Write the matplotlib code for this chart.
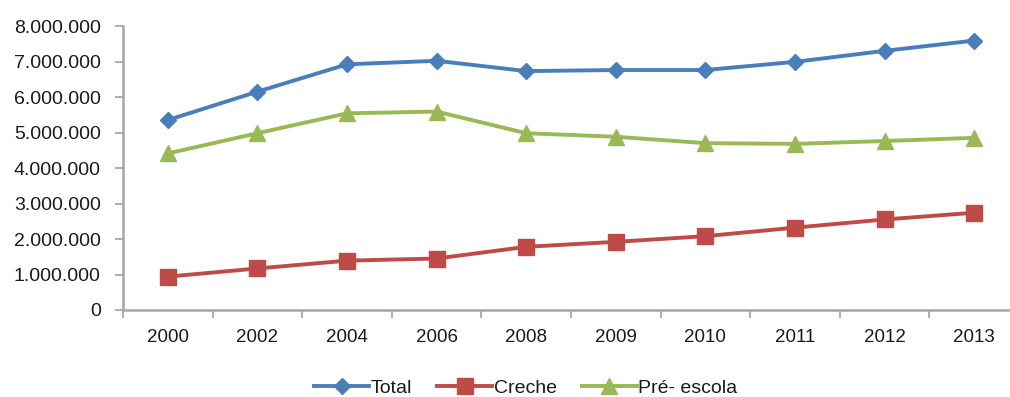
import matplotlib
matplotlib.use("Agg")
import matplotlib.pyplot as plt
from matplotlib.ticker import FuncFormatter, FixedLocator

years = ["2000", "2002", "2004", "2006", "2008", "2009", "2010", "2011", "2012", "2013"]
total = [5350000, 6150000, 6920000, 7020000, 6730000, 6760000, 6760000, 6990000, 7300000, 7590000]
creche = [940000, 1170000, 1390000, 1450000, 1780000, 1920000, 2080000, 2320000, 2550000, 2740000]
pre_escola = [4410000, 4980000, 5540000, 5590000, 4980000, 4880000, 4700000, 4680000, 4760000, 4850000]

plt.rcParams['font.family'] = ['Liberation Sans', 'DejaVu Sans']
txt = '#1a1a1a'
axc = '#a6a6a6'

fig = plt.figure(figsize=(10.10, 3.97), dpi=100)
ax = fig.add_axes([123/1010, 87/397, 896/1010, 284/397])

x = list(range(len(years)))
ax.plot(x, total, color='#4a7ebb', lw=2.8, marker='D', ms=8.5, mec='#4a7ebb', label='Total')
ax.plot(x, creche, color='#be4b48', lw=2.8, marker='s', ms=11.5, mec='#be4b48', label='Creche')
ax.plot(x, pre_escola, color='#98b954', lw=2.8, marker='^', ms=11.5, mec='#98b954', label='Pré- escola')

ax.set_xlim(-0.5, len(years) - 0.5)
ax.set_ylim(0, 8000000)
ax.yaxis.set_major_locator(FixedLocator([i * 1000000 for i in range(9)]))
ax.yaxis.set_major_formatter(FuncFormatter(lambda v, p: '0' if v == 0 else f"{int(v):,}".replace(',', '.')))

ax.xaxis.set_major_locator(FixedLocator([i - 0.5 for i in range(len(years) + 1)]))
ax.xaxis.set_major_formatter(FuncFormatter(lambda v, p: ''))
ax.xaxis.set_minor_locator(FixedLocator(x))
ax.set_xticklabels(years, minor=True)
ax.tick_params(axis='x', which='major', length=6, width=1.3, color=axc, direction='out')
ax.tick_params(axis='x', which='minor', length=0, pad=14, labelsize=13.5, labelcolor=txt)
ax.tick_params(axis='y', length=6, width=1.3, color=axc, direction='out', labelsize=14, labelcolor=txt, pad=10)

for s in ['top', 'right']:
    ax.spines[s].set_visible(False)
for s in ['left', 'bottom']:
    ax.spines[s].set_color(axc)
    ax.spines[s].set_linewidth(1.8)

leg = fig.legend(loc='center', bbox_to_anchor=(526/1010, 1 - 388/397), ncol=3, frameon=False,
                 fontsize=14, handlelength=2.8, handletextpad=0.1, columnspacing=1.3,
                 borderaxespad=0, borderpad=0)
for t in leg.get_texts():
    t.set_color(txt)

fig.savefig('out.png', dpi=100)
